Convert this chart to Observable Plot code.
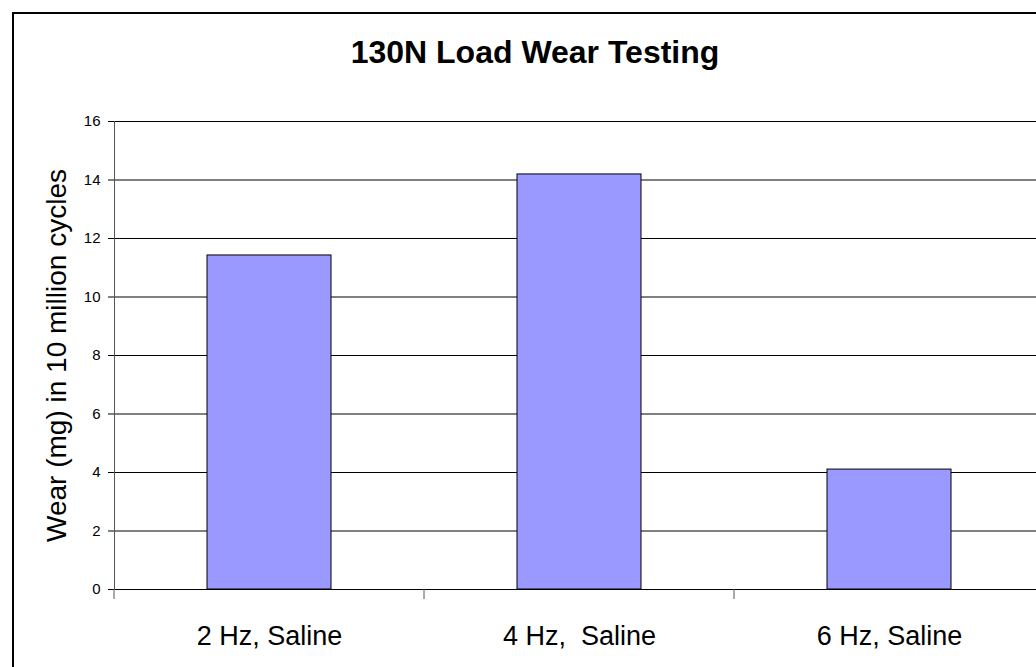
<!DOCTYPE html>
<html><head><meta charset="utf-8">
<script src="https://cdn.jsdelivr.net/npm/d3@7"></script>
<script src="https://cdn.jsdelivr.net/npm/@observablehq/plot@0.6"></script>
<style>
body{margin:0;background:#fff;}
#wrap{position:relative;width:1036px;height:667px;overflow:hidden;background:#fff;font-family:"Liberation Sans",Arial,sans-serif;}
#title{box-sizing:border-box;height:100px;padding-top:32px;padding-left:34px;line-height:40px;font-size:32px;font-weight:bold;text-align:center;color:#000;}
#border{position:absolute;left:12px;top:12px;width:2000px;height:2000px;border-left:2px solid #000;border-top:2px solid #000;pointer-events:none;}
svg text{white-space:pre;}
svg g[aria-label="y-axis tick label"]{font-size:15px !important;}
svg g[aria-label="y-axis tick label"] text{font-size:15px !important;}
</style></head><body>
<div id="wrap"><div id="title">130N Load Wear Testing</div><div id="chart"></div><div id="border"></div></div>
<script>
const categories = ["2 Hz, Saline", "4 Hz,  Saline", "6 Hz, Saline"];
const wear = [11.42, 14.19, 4.1];
const yTicks = [0, 2, 4, 6, 8, 10, 12, 14, 16];
const yLabel = "Wear (mg) in 10 million cycles";

const rows = categories.map((c, i) => ({category: c, wear: wear[i]}));

const plot = Plot.plot({
  width: 1036,
  height: 567,
  marginLeft: 114,
  marginRight: 0,
  marginTop: 21,
  marginBottom: 78,
  style: {fontFamily: "'Liberation Sans', Arial, sans-serif", fontSize: "15px", color: "#000", background: "transparent"},
  x: {type: "band", domain: categories, range: [114, 1044], paddingInner: 0.6, paddingOuter: 0.3},
  y: {domain: [0, 16]},
  marks: [
    Plot.ruleY(yTicks, {stroke: "#000", strokeWidth: 1}),
    Plot.barY(rows, {x: "category", y: "wear", fill: "#9999ff", stroke: "#000", strokeWidth: 1}),
    Plot.frame({anchor: "left", stroke: "#555"}),
    Plot.axisY({ticks: yTicks, tickSize: 6, tickPadding: 8, fontSize: 15, label: null, tickFormat: d => String(d)}),
    Plot.axisX({tickSize: 0, tickPadding: 36, fontSize: 27, label: null}),
    Plot.text([yLabel], {frameAnchor: "left", dx: -57, rotate: -90, fontSize: 28, textAnchor: "middle", lineAnchor: "middle"})
  ]
});

document.getElementById("chart").appendChild(plot);

// category boundary ticks below the x axis, positioned through Plot's own scales
const xs = plot.scale("x");
const ys = plot.scale("y");
const band = d3.scaleBand(xs.domain, xs.range)
  .paddingInner(xs.paddingInner).paddingOuter(xs.paddingOuter).align(xs.align ?? 0.5);
const yScale = d3.scaleLinear(ys.domain, ys.range);
const y0 = yScale(0);
const half = band.paddingInner() * band.step() / 2;
const edges = categories.map(c => band(c) - half);
edges.push(band(categories[categories.length - 1]) + band.bandwidth() + half);
d3.select(plot).append("g")
  .attr("stroke", "#555")
  .selectAll("line").data(edges).join("line")
  .attr("x1", d => d).attr("x2", d => d)
  .attr("y1", y0).attr("y2", y0 + 10);
</script>
</body></html>
